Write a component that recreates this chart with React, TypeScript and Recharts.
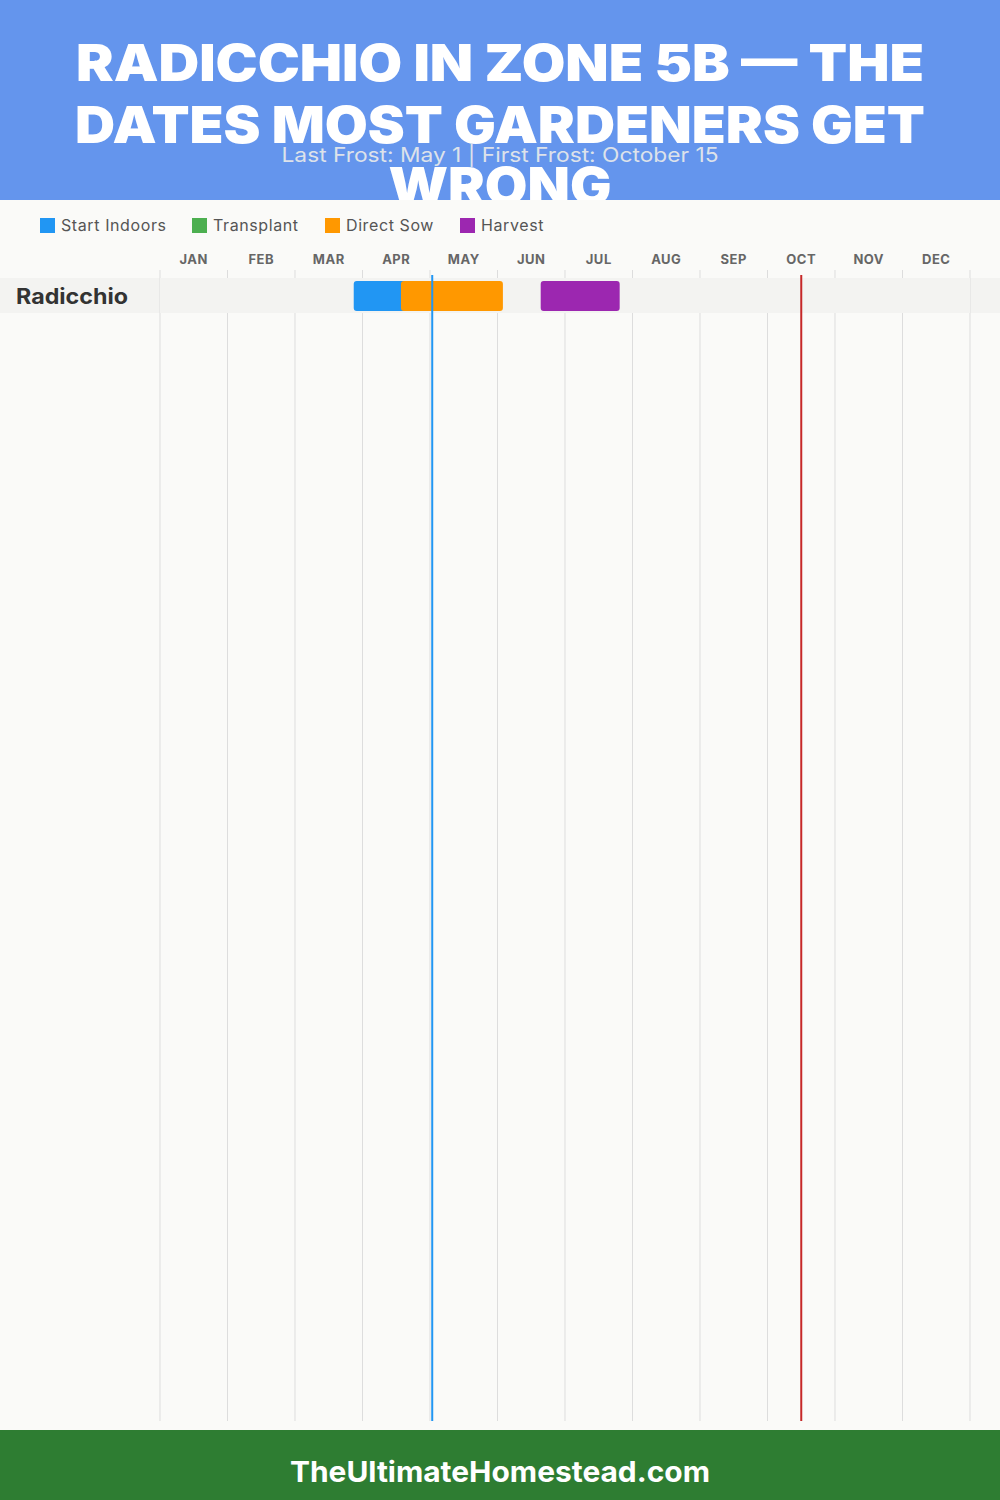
import React from 'react';
import { BarChart, Bar, XAxis, YAxis, CartesianGrid, ReferenceLine, ReferenceArea } from 'recharts';

const months = ['JAN', 'FEB', 'MAR', 'APR', 'MAY', 'JUN', 'JUL', 'AUG', 'SEP', 'OCT', 'NOV', 'DEC'];
const monthCenters = [0.5, 1.5, 2.5, 3.5, 4.5, 5.5, 6.5, 7.5, 8.5, 9.5, 10.5, 11.5];
const monthStarts = [0, 1, 2, 3, 4, 5, 6, 7, 8, 9, 10, 11, 12];
const crops = ['Radicchio'];
const startIndoors: ([number, number] | null)[] = [[2.87, 3.75]];
const transplant: ([number, number] | null)[] = [null];
const directSow: ([number, number] | null)[] = [[3.57, 5.08]];
const harvest: ([number, number] | null)[] = [[5.64, 6.81]];
const lastFrost = 4.033; // May 1
const firstFrost = 9.5; // Oct 15
const seriesNames = ['Start Indoors', 'Transplant', 'Direct Sow', 'Harvest'];
const seriesKeys = ['indoors', 'transplant', 'sow', 'harvest'];
const seriesColors = ['#2196F3', '#4CAF50', '#FF9800', '#9C27B0'];
const legendItemWidths = [152, 133, 135, 100];
const titleLines = ['RADICCHIO IN ZONE 5B — THE', 'DATES MOST GARDENERS GET', 'WRONG'];
const subtitle = 'Last Frost: May 1 | First Frost: October 15';
const footer = 'TheUltimateHomestead.com';

const data = crops.map((crop, i) => ({
  crop,
  indoors: startIndoors[i],
  transplant: transplant[i],
  sow: directSow[i],
  harvest: harvest[i],
}));

const FONT = 'Inter, "Open Sans", sans-serif';

const CropTick = (props: any) => (
  <text x={16} y={props.y} dy={8} fill="#333" fontSize={21} fontWeight={700} fontFamily={FONT} textLength={112} lengthAdjust="spacingAndGlyphs">
    {props.payload.value}
  </text>
);

const frostShape = (color: string) => (p: any) => {
  const top = Math.min(p.y1, p.y2);
  const bottom = Math.max(p.y1, p.y2);
  return <line x1={p.x1} x2={p.x2} y1={top + 5} y2={bottom} stroke={color} strokeWidth={2} />;
};

const gridGenerator = (props: any) => {
  const ax = props.xAxis;
  const off = props.offset;
  if (ax && typeof ax.scale === 'function') {
    return monthStarts.map((m) => ax.scale(m));
  }
  return monthStarts.map((m) => off.left + (m / 12) * off.width);
};

export default function App() {
  return (
    <div style={{ position: 'absolute', left: 0, top: 0, width: 1000, height: 1500, background: '#FAFAF8', overflow: 'hidden', fontFamily: FONT }}>
      <svg width={1000} height={200} style={{ position: 'absolute', left: 0, top: 0 }}>
        <rect x={0} y={0} width={1000} height={200} fill="#6495ED" />
        <text x={500} y={81} textAnchor="middle" fill="#fff" fontSize={51} fontWeight={900} fontFamily={FONT} textLength={848} lengthAdjust="spacingAndGlyphs">{titleLines[0]}</text>
        <text x={500} y={143} textAnchor="middle" fill="#fff" fontSize={51} fontWeight={900} fontFamily={FONT} textLength={850} lengthAdjust="spacingAndGlyphs">{titleLines[1]}</text>
        <text x={500} y={162} textAnchor="middle" fill="#dde2ea" fontSize={20} fontWeight={400} fontFamily={FONT} textLength={437} lengthAdjust="spacingAndGlyphs">{subtitle}</text>
        <text x={500} y={204} textAnchor="middle" fill="#fff" fontSize={51} fontWeight={900} fontFamily={FONT} textLength={223} lengthAdjust="spacingAndGlyphs">{titleLines[2]}</text>
      </svg>

      <div style={{ position: 'absolute', left: 40, top: 215, display: 'flex', alignItems: 'center', height: 20 }}>
        {seriesNames.map((n, i) => (
          <div key={n} style={{ display: 'flex', alignItems: 'center', width: legendItemWidths[i] }}>
            <div style={{ width: 15, height: 15, background: seriesColors[i], marginRight: 6, flexShrink: 0 }} />
            <span style={{ fontSize: 16, color: '#555', fontFamily: FONT, letterSpacing: 0.6, whiteSpace: 'nowrap' }}>{n}</span>
          </div>
        ))}
      </div>

      <div style={{ position: 'absolute', left: 0, top: 278, width: 1000, height: 35, background: '#F3F3F1' }} />

      <div style={{ position: 'absolute', left: 0, top: 200 }}>
        <BarChart
          width={1000}
          height={1230}
          data={data}
          layout="vertical"
          margin={{ top: 40, right: 30, bottom: 9, left: 0 }}
        >
          <XAxis
            xAxisId="months"
            type="number"
            orientation="top"
            domain={[0, 12]}
            ticks={monthCenters}
            tickFormatter={(v: number) => months[Math.floor(v)]}
            axisLine={false}
            tickLine={false}
            tickSize={0}
            tickMargin={6}
            height={30}
            interval={0}
            allowDataOverflow
            tick={{ fill: '#666', fontSize: 13, fontWeight: 700, fontFamily: FONT, letterSpacing: 0.5 }}
          />
          <YAxis yAxisId="y0" type="category" dataKey="crop" width={160} axisLine={false} tickLine={false} tick={<CropTick />} padding={{ top: 8, bottom: 1108 }} />
          <YAxis yAxisId="y1" type="category" dataKey="crop" hide padding={{ top: 8, bottom: 1108 }} />
          <YAxis yAxisId="y2" type="category" dataKey="crop" hide padding={{ top: 8, bottom: 1108 }} />
          <YAxis yAxisId="y3" type="category" dataKey="crop" hide padding={{ top: 8, bottom: 1108 }} />
          <CartesianGrid xAxisId="months" yAxisId="y0" horizontal={false} stroke="#DDDDDD" verticalCoordinatesGenerator={gridGenerator} />
          <ReferenceArea xAxisId="months" yAxisId="y0" y1={crops[0]} y2={crops[0]} fill="#F3F3F1" fillOpacity={1} stroke="none" ifOverflow="visible" />
          {seriesKeys.map((k, i) => (
            <Bar
              key={k}
              dataKey={k}
              name={seriesNames[i]}
              xAxisId="months"
              yAxisId={`y${i}`}
              fill={seriesColors[i]}
              barSize={30}
              radius={3}
              isAnimationActive={false}
            />
          ))}
          <ReferenceLine xAxisId="months" yAxisId="y0" x={lastFrost} stroke="#2196F3" strokeWidth={2} shape={frostShape('#2196F3')} ifOverflow="visible" />
          <ReferenceLine xAxisId="months" yAxisId="y0" x={firstFrost} stroke="#C62828" strokeWidth={2} shape={frostShape('#C62828')} ifOverflow="visible" />
        </BarChart>
      </div>

      <svg width={1000} height={70} style={{ position: 'absolute', left: 0, top: 1430 }}>
        <rect x={0} y={0} width={1000} height={70} fill="#2E7D32" />
        <text x={500} y={52} textAnchor="middle" fill="#fff" fontSize={29} fontWeight={700} fontFamily={FONT} textLength={420} lengthAdjust="spacingAndGlyphs">{footer}</text>
      </svg>
    </div>
  );
}
